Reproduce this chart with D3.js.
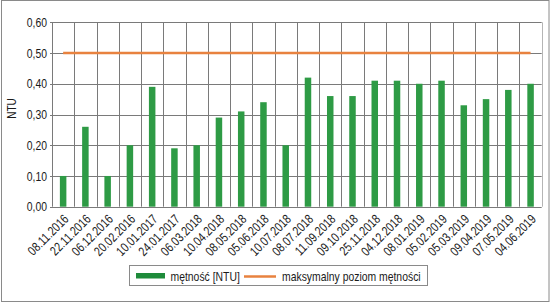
<!DOCTYPE html>
<html>
<head>
<meta charset="utf-8">
<script src="https://cdn.jsdelivr.net/npm/d3@7"></script>
<style>
  body { margin: 0; background: #fff; }
  svg text { font-family: "Liberation Sans", Arial, sans-serif; fill: #1a1a1a; }
</style>
</head>
<body>
<svg id="chart" width="550" height="303"></svg>
<script>
// data
const dates = ["08.11.2016", "22.11.2016", "06.12.2016", "20.02.2016", "10.01.2017", "24.01.2017",
  "06.03.2018", "10.04.2018", "08.05.2018", "05.06.2018", "10.07.2018", "08.07.2018",
  "11.09.2018", "09.10.2018", "25.11.2018", "04.12.2018", "08.01.2019", "05.02.2019",
  "05.03.2019", "09.04.2019", "07.05.2019", "04.06.2019"];
const turbidity = [0.10, 0.26, 0.10, 0.20, 0.39, 0.19, 0.20, 0.29, 0.31, 0.34, 0.20, 0.42,
  0.36, 0.36, 0.41, 0.41, 0.40, 0.41, 0.33, 0.35, 0.38, 0.40];
const maxLevel = dates.map(() => 0.5);
const yTicks = [0, 0.1, 0.2, 0.3, 0.4, 0.5, 0.6];
const seriesNames = ["mętność [NTU]", "maksymalny poziom mętności"];

const W = 550, H = 303;
const margin = { top: 22.3, right: 8.3, bottom: 96.3, left: 52 };
const narrow = 0.8; // fake a condensed face
const svg = d3.select("#chart");

// outer frame
svg.append("rect")
  .attr("x", 1.5).attr("y", 0.5)
  .attr("width", W - 2.5).attr("height", H - 2)
  .attr("fill", "none").attr("stroke", "#8a8a8a").attr("stroke-width", 1);

const x = d3.scaleBand()
  .domain(dates)
  .range([margin.left, W - margin.right]);

const y = d3.scaleLinear()
  .domain([0, 0.6])
  .range([H - margin.bottom, margin.top]);

const fmt = d => d3.format(".2f")(d).replace(".", ",");

// horizontal grid
svg.append("g")
  .selectAll("line")
  .data(yTicks)
  .enter().append("line")
  .attr("x1", margin.left - 2).attr("x2", W - margin.right)
  .attr("y1", d => Math.round(y(d)) + 0.5).attr("y2", d => Math.round(y(d)) + 0.5)
  .attr("stroke", "#7a7a7a").attr("stroke-width", 1);

// vertical grid at category boundaries
const bounds = dates.map(d => x(d)).concat([x.range()[1]]);
svg.append("g")
  .selectAll("line")
  .data(bounds)
  .enter().append("line")
  .attr("x1", d => Math.round(d) + 0.5).attr("x2", d => Math.round(d) + 0.5)
  .attr("y1", y(0.6)).attr("y2", y(0))
  .attr("stroke", (d, i) => i === bounds.length - 1 ? "#b5b5b5" : "#7a7a7a")
  .attr("stroke-width", 1);

// y axis labels
const yAxis = d3.axisLeft(y).tickValues(yTicks).tickFormat(fmt).tickSize(0).tickPadding(0);
svg.append("g")
  .attr("transform", `translate(${margin.left - 5},0)`)
  .call(yAxis)
  .call(g => g.select(".domain").remove())
  .selectAll("text")
  .style("font-size", "13px")
  .attr("transform", `scale(${narrow},1)`);

svg.append("text")
  .attr("transform", `translate(16,${y(0.3) - 6}) rotate(-90) scale(${narrow},1)`)
  .attr("text-anchor", "middle")
  .style("font-size", "12.5px")
  .text("NTU");

// bars
const barW = 6.5;
svg.append("g")
  .selectAll("rect")
  .data(turbidity)
  .enter().append("rect")
  .attr("x", (d, i) => x(dates[i]) + x.bandwidth() / 2 - barW / 2)
  .attr("y", d => y(d))
  .attr("width", barW)
  .attr("height", d => y(0) - y(d))
  .attr("fill", "#2e9b45");

// max level line
const line = d3.line()
  .x((d, i) => x(dates[i]) + x.bandwidth() / 2)
  .y(d => y(d));
svg.append("path")
  .datum(maxLevel)
  .attr("d", line)
  .attr("fill", "none")
  .attr("stroke", "#e8823f")
  .attr("stroke-width", 2.5);

// x labels
const xAxis = d3.axisBottom(x).tickSize(0).tickPadding(0);
svg.append("g")
  .attr("transform", `translate(0,${y(0)})`)
  .call(xAxis)
  .call(g => g.select(".domain").remove())
  .selectAll("text")
  .style("font-size", "13px")
  .attr("text-anchor", "end")
  .attr("y", 0)
  .attr("dy", "0.35em")
  .attr("transform", `translate(3,10) rotate(-45) scale(${narrow},1)`);

// legend
const lg = svg.append("g");
lg.append("rect")
  .attr("x", 129.5).attr("y", 265.5)
  .attr("width", 298).attr("height", 20)
  .attr("fill", "#fff").attr("stroke", "#8a8a8a");
lg.append("rect")
  .attr("x", 136).attr("y", 273).attr("width", 29).attr("height", 5.5)
  .attr("fill", "#1e8b3a");
lg.append("text")
  .attr("transform", `translate(170.5,280.5) scale(${narrow},1)`)
  .style("font-size", "13px")
  .text(seriesNames[0]);
lg.append("line")
  .attr("x1", 244).attr("x2", 276).attr("y1", 276.5).attr("y2", 276.5)
  .attr("stroke", "#e8823f").attr("stroke-width", 2.5);
lg.append("text")
  .attr("transform", `translate(282,280.5) scale(${narrow},1)`)
  .style("font-size", "13px")
  .text(seriesNames[1]);
</script>
</body>
</html>
